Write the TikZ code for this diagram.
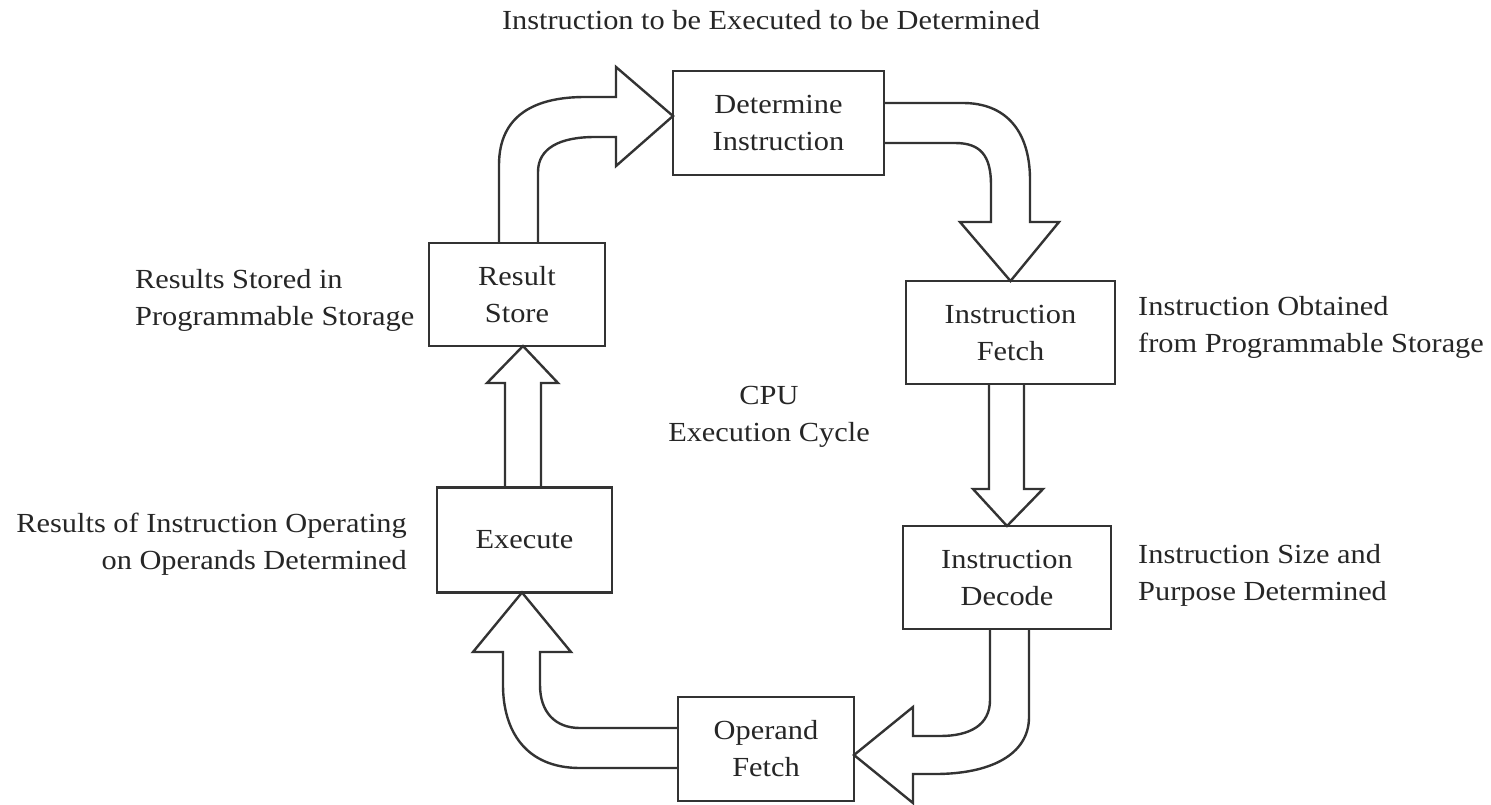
\documentclass[tikz,border=0pt]{standalone}
\usepackage{fontspec}
\setmainfont[FakeStretch=1.1]{Liberation Serif}
\usetikzlibrary{calc}
\begin{document}
\begin{tikzpicture}[x=1pt,y=-1pt,
  stage/.style={draw=black!80, line width=2.6pt, text=black!85, align=center,
    inner sep=0pt, outer sep=0pt, font=\fontsize{27.6}{37}\selectfont},
  note/.style={text=black!85, inner sep=0pt, font=\fontsize{27.6}{37}\selectfont},
  blockarrow/.style={draw=black!80, line width=2.4pt, line join=miter}]
\useasboundingbox (0,0) rectangle (1491,804);
\fill[white] (0,0) rectangle (1491,804);

% stages
\node[stage, minimum width=211pt, minimum height=104pt] (det) at (778.5,123) {Determine\\Instruction};
\node[stage, minimum width=209pt, minimum height=103pt] (fetch) at (1010.5,332.5) {Instruction\\Fetch};
\node[stage, minimum width=208pt, minimum height=103pt] (decode) at (1007,577.5) {Instruction\\Decode};
\node[stage, minimum width=176pt, minimum height=104pt] (opf) at (766,749) {Operand\\Fetch};
\node[stage, minimum width=175pt, minimum height=105pt] (exec) at (524.5,540) {Execute};
\node[stage, minimum width=176pt, minimum height=103pt] (store) at (517,294.5) {Result\\Store};

% notes
\node[note, anchor=base] (title) at (771,29) {Instruction to be Executed to be Determined};
\node[note, anchor=west, align=left] (n1) at (135,300) {Results Stored in\\Programmable Storage};
\node[note, anchor=east, align=right] (n2) at (407,544) {Results of Instruction Operating\\on Operands Determined};
\node[note, anchor=west, align=left] (n3) at (1138,327) {Instruction Obtained\\from Programmable Storage};
\node[note, anchor=west, align=left] (n4) at (1138,575) {Instruction Size and\\Purpose Determined};
\node[note, align=center] (cpu) at (769,417) {CPU\\Execution Cycle};

% block arrows
% Result Store -> Determine Instruction
\draw[blockarrow] ($(store.north)+(-18,0)$) -- (499,165)
  .. controls (499,115) and (535,97) .. (585,97) -- (616,97) -- (616,67)
  -- ($(det.west)+(0,-7)$) -- (616,166) -- (616,137) -- (595,137)
  .. controls (560,137) and (538,148) .. (538,172) -- ($(store.north)+(21,0)$);
% Determine Instruction -> Instruction Fetch
\draw[blockarrow] ($(det.east)+(0,-20)$) -- (963,103)
  .. controls (1005,103) and (1030,130) .. (1030,180) -- (1030,222) -- (1059,222)
  -- (fetch.north) -- (960,222) -- (991,222) -- (991,185)
  .. controls (991,155) and (980,143) .. (955,143) -- ($(det.east)+(0,20)$);
% Instruction Fetch -> Instruction Decode
\draw[blockarrow] ($(fetch.south)+(-21.5,0)$) -- (989,489) -- (973,489)
  -- (decode.north) -- (1043,489) -- (1024,489) -- ($(fetch.south)+(13.5,0)$);
% Instruction Decode -> Operand Fetch
\draw[blockarrow] ($(decode.south)+(22,0)$) -- (1029,717)
  .. controls (1029,755) and (990,774) .. (935,774) -- (913,774) -- (913,803)
  -- ($(opf.east)+(0,6)$) -- (913,707) -- (913,736) -- (940,736)
  .. controls (970,736) and (990,725) .. (990,700) -- ($(decode.south)+(-17,0)$);
% Operand Fetch -> Execute
\draw[blockarrow] ($(opf.west)+(0,-21)$) -- (580,728)
  .. controls (555,728) and (540,712) .. (540,685) -- (540,652) -- (571,652)
  -- ($(exec.south)+(-2.5,0)$) -- (473,652) -- (503,652) -- (503,685)
  .. controls (503,730) and (525,768) .. (580,768) -- ($(opf.west)+(0,19)$);
% Execute -> Result Store
\draw[blockarrow] ($(exec.north)+(-19.5,0)$) -- (505,383) -- (487,383)
  -- ($(store.south)+(6,0)$) -- (558,383) -- (541,383) -- ($(exec.north)+(16.5,0)$);
\end{tikzpicture}
\end{document}
